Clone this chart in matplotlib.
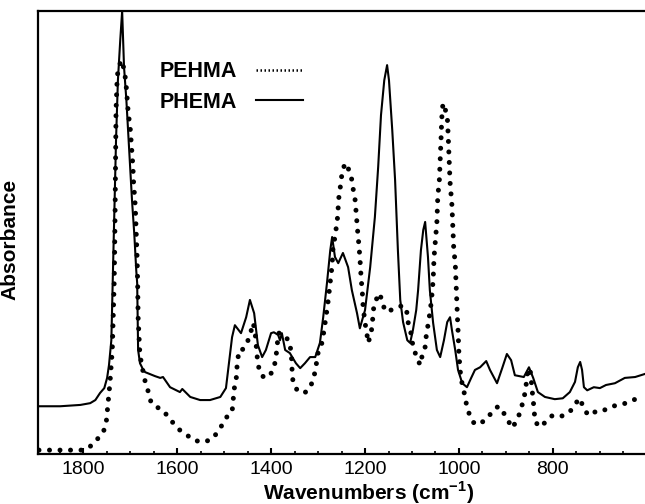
import matplotlib
matplotlib.use("Agg")
import matplotlib.pyplot as plt
from matplotlib.lines import Line2D
from matplotlib.ticker import MultipleLocator

plt.rcParams['font.family'] = ['Liberation Sans', 'DejaVu Sans']
plt.rcParams['mathtext.fontset'] = 'custom'
plt.rcParams['mathtext.rm'] = 'Liberation Sans:bold'
plt.rcParams['mathtext.bf'] = 'Liberation Sans:bold'

# PHEMA (solid) - wavenumber / absorbance (a.u.)
phema_wn = [1896, 1849, 1806, 1785, 1774, 1764, 1755, 1749, 1745, 1740, 1738, 1736, 1733, 1730,
            1726, 1721, 1717, 1713, 1708, 1704, 1700, 1696, 1691, 1689, 1687, 1685, 1684, 1683,
            1679, 1672, 1668, 1647, 1636, 1630, 1615, 1594, 1589, 1572, 1551, 1530, 1508, 1496,
            1489, 1483, 1477, 1464, 1453, 1445, 1436, 1428, 1419, 1411, 1400, 1394, 1385, 1381,
            1377, 1370, 1360, 1347, 1338, 1328, 1317, 1306, 1296, 1289, 1281, 1274, 1270, 1264,
            1257, 1247, 1236, 1228, 1217, 1211, 1200, 1189, 1179, 1172, 1166, 1159, 1153, 1149,
            1142, 1136, 1130, 1125, 1119, 1110, 1104, 1098, 1091, 1087, 1081, 1076, 1072, 1066,
            1062, 1055, 1047, 1040, 1032, 1025, 1019, 1015, 1008, 1002, 993, 983, 974, 966, 955,
            942, 934, 919, 908, 898, 889, 881, 872, 862, 851, 842, 832, 817, 796, 779, 764, 753,
            747, 742, 738, 734, 727, 713, 700, 687, 668, 647, 625, 604]
phema_abs = [0.108, 0.108, 0.111, 0.115, 0.122, 0.138, 0.149, 0.172, 0.201, 0.257, 0.348, 0.438,
             0.573, 0.709, 0.844, 0.935, 1.0, 0.874, 0.799, 0.725, 0.648, 0.573, 0.494, 0.454,
             0.415, 0.386, 0.302, 0.235, 0.205, 0.190, 0.185, 0.176, 0.172, 0.174, 0.151, 0.140,
             0.147, 0.129, 0.122, 0.122, 0.129, 0.149, 0.212, 0.264, 0.291, 0.273, 0.309, 0.348,
             0.318, 0.246, 0.219, 0.235, 0.273, 0.275, 0.269, 0.257, 0.273, 0.235, 0.228, 0.205,
             0.194, 0.205, 0.219, 0.219, 0.251, 0.309, 0.386, 0.460, 0.490, 0.445, 0.431, 0.454,
             0.422, 0.370, 0.318, 0.284, 0.325, 0.422, 0.535, 0.648, 0.765, 0.844, 0.878, 0.844,
             0.731, 0.619, 0.460, 0.348, 0.298, 0.257, 0.251, 0.280, 0.325, 0.370, 0.460, 0.506,
             0.524, 0.445, 0.370, 0.296, 0.235, 0.219, 0.257, 0.298, 0.309, 0.280, 0.235, 0.190,
             0.160, 0.151, 0.172, 0.190, 0.196, 0.210, 0.190, 0.160, 0.194, 0.226, 0.212, 0.178,
             0.176, 0.174, 0.196, 0.172, 0.140, 0.129, 0.124, 0.126, 0.140, 0.163, 0.196, 0.208,
             0.190, 0.151, 0.144, 0.151, 0.149, 0.156, 0.160, 0.172, 0.174, 0.181]

# PEHMA (dotted)
pehma_wn = [1894, 1849, 1800, 1781, 1768, 1757, 1751, 1747, 1743, 1738, 1736, 1734, 1733, 1732,
            1731, 1730, 1728, 1726, 1719, 1715, 1711, 1708, 1706, 1704, 1700, 1698, 1696, 1694,
            1693, 1691, 1689, 1688, 1687, 1686, 1685, 1684, 1683, 1681, 1679, 1674, 1672, 1664,
            1655, 1643, 1630, 1617, 1604, 1594, 1579, 1566, 1547, 1528, 1513, 1502, 1494, 1483,
            1481, 1479, 1474, 1472, 1468, 1462, 1455, 1449, 1442, 1438, 1434, 1432, 1430, 1428,
            1419, 1408, 1398, 1391, 1387, 1385, 1377, 1370, 1362, 1357, 1355, 1353, 1342, 1325,
            1313, 1308, 1304, 1300, 1291, 1285, 1279, 1274, 1270, 1268, 1264, 1259, 1255, 1251,
            1249, 1242, 1234, 1228, 1225, 1221, 1219, 1217, 1215, 1213, 1211, 1208, 1206, 1204,
            1200, 1196, 1194, 1189, 1185, 1183, 1181, 1174, 1168, 1164, 1155, 1140, 1119, 1110,
            1108, 1100, 1098, 1089, 1083, 1079, 1072, 1070, 1066, 1062, 1059, 1057, 1055, 1054,
            1053, 1051, 1049, 1047, 1046, 1045, 1042, 1041, 1040, 1039, 1038, 1037, 1036, 1034,
            1025, 1024, 1023, 1022, 1021, 1020, 1019, 1017, 1015, 1014, 1013, 1012, 1011, 1008,
            1007, 1006, 1005, 1004, 1003, 1002, 1001, 1000, 998, 996, 991, 987, 983, 976, 968,
            953, 942, 928, 917, 906, 896, 887, 876, 870, 864, 859, 855, 853, 847, 845, 842, 840,
            838, 825, 813, 800, 781, 764, 755, 742, 736, 725, 715, 698, 679, 662, 644, 630, 608]
pehma_abs = [0.009, 0.009, 0.009, 0.020, 0.036, 0.050, 0.070, 0.115, 0.160, 0.235, 0.309, 0.386,
             0.454, 0.551, 0.675, 0.777, 0.837, 0.867, 0.889, 0.878, 0.856, 0.826, 0.799, 0.770,
             0.738, 0.709, 0.679, 0.648, 0.619, 0.589, 0.558, 0.528, 0.499, 0.467, 0.438, 0.386,
             0.309, 0.264, 0.219, 0.201, 0.178, 0.151, 0.115, 0.106, 0.099, 0.081, 0.065, 0.054,
             0.043, 0.032, 0.027, 0.032, 0.050, 0.070, 0.084, 0.095, 0.117, 0.144, 0.172, 0.205,
             0.235, 0.235, 0.242, 0.257, 0.280, 0.296, 0.275, 0.251, 0.228, 0.201, 0.176, 0.172,
             0.185, 0.208, 0.242, 0.273, 0.273, 0.264, 0.257, 0.230, 0.183, 0.160, 0.140, 0.140,
             0.160, 0.178, 0.201, 0.228, 0.253, 0.296, 0.341, 0.388, 0.427, 0.467, 0.490, 0.528,
             0.589, 0.612, 0.637, 0.657, 0.641, 0.619, 0.597, 0.573, 0.546, 0.521, 0.494, 0.472,
             0.445, 0.393, 0.370, 0.332, 0.296, 0.273, 0.251, 0.264, 0.287, 0.314, 0.336, 0.354,
             0.363, 0.341, 0.321, 0.327, 0.336, 0.318, 0.296, 0.264, 0.239, 0.219, 0.201, 0.219,
             0.242, 0.264, 0.291, 0.318, 0.343, 0.366, 0.393, 0.420, 0.445, 0.472, 0.499, 0.524,
             0.555, 0.585, 0.612, 0.637, 0.664, 0.691, 0.716, 0.747, 0.770, 0.792, 0.765, 0.743,
             0.720, 0.693, 0.668, 0.641, 0.614, 0.589, 0.562, 0.535, 0.510, 0.483, 0.460, 0.433,
             0.409, 0.381, 0.354, 0.330, 0.302, 0.280, 0.251, 0.223, 0.196, 0.172, 0.149, 0.129,
             0.106, 0.084, 0.070, 0.068, 0.084, 0.093, 0.108, 0.095, 0.077, 0.059, 0.077, 0.095,
             0.117, 0.140, 0.174, 0.194, 0.183, 0.151, 0.122, 0.099, 0.072, 0.061, 0.077, 0.088,
             0.086, 0.095, 0.111, 0.126, 0.106, 0.088, 0.095, 0.095, 0.106, 0.111, 0.115, 0.122,
             0.129]

fig = plt.figure(figsize=(6.45, 5.04), dpi=100)
ax = fig.add_axes([0.059, 0.099, 0.941, 0.879])

dot_style = dict(color='black', linewidth=3.6, linestyle=(0, (0.001, 2.1)),
                 dash_capstyle='round')
ax.plot(pehma_wn, pehma_abs, **dot_style)
ax.plot(phema_wn, phema_abs, color='black', linewidth=1.5)

ax.set_xlim(1896, 604)
ax.set_ylim(0, 1.0)
ax.xaxis.set_major_locator(MultipleLocator(200))
ax.xaxis.set_minor_locator(MultipleLocator(50))
ax.tick_params(axis='x', which='major', direction='in', length=4, width=1.5,
               labelsize=14, pad=5)
ax.tick_params(axis='x', which='minor', direction='in', length=2, width=1.2)
ax.set_yticks([])
for side in ['left', 'bottom', 'top']:
    ax.spines[side].set_linewidth(1.6)
ax.spines['right'].set_visible(False)

ax.set_xlabel('Wavenumbers (cm$^{-1}$)', fontsize=15, fontweight='bold')
ax.xaxis.set_label_coords(0.545, -0.056)
ax.set_ylabel('Absorbance', fontsize=15, fontweight='bold')
ax.yaxis.set_label_coords(-0.031, 0.485)

# legend: label first, sample line to the right
handles = [Line2D([], [], color='black', linewidth=1.8, linestyle=(0, (0.6, 1.0))),
           Line2D([], [], color='black', linewidth=1.5)]
ax.legend(handles, ['PEHMA', 'PHEMA'], loc='upper left', bbox_to_anchor=(0.201, 0.887),
          frameon=False, markerfirst=False, handlelength=2.15, handletextpad=0.88,
          labelspacing=0.45, borderpad=0, borderaxespad=0,
          prop={'weight': 'bold', 'size': 15.5})

fig.savefig('out.png', dpi=100)
